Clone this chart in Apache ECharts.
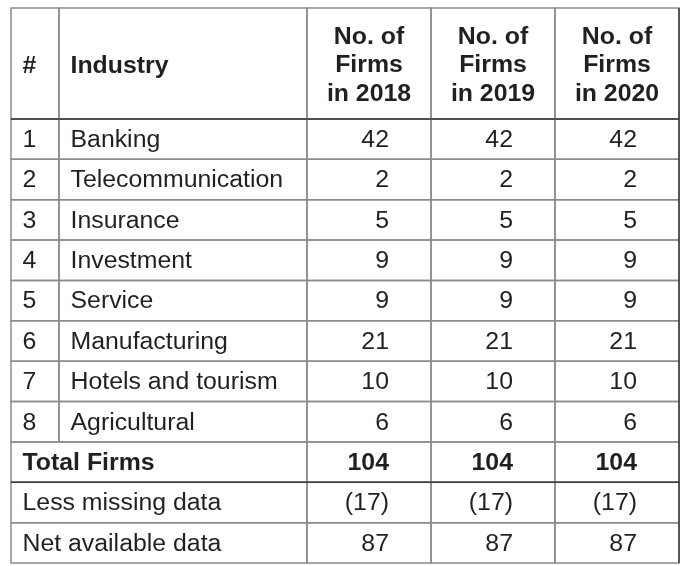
<!DOCTYPE html>
<html>
<head>
<meta charset="utf-8">
<script src="https://cdn.jsdelivr.net/npm/echarts@6/dist/echarts.min.js"></script>
<style>
  html, body { margin: 0; padding: 0; background: #ffffff; }
  #chart { width: 699px; height: 566px; }
</style>
</head>
<body>
<div id="chart"></div>
<script>
// ---- Data ----
const headers = ['#', 'Industry', 'No. of\nFirms\nin 2018', 'No. of\nFirms\nin 2019', 'No. of\nFirms\nin 2020'];
const rowIds = ['1', '2', '3', '4', '5', '6', '7', '8'];
const industries = ['Banking', 'Telecommunication', 'Insurance', 'Investment', 'Service', 'Manufacturing', 'Hotels and tourism', 'Agricultural'];
const firms2018 = [42, 2, 5, 9, 9, 21, 10, 6];
const firms2019 = [42, 2, 5, 9, 9, 21, 10, 6];
const firms2020 = [42, 2, 5, 9, 9, 21, 10, 6];
const summaryLabels = ['Total Firms', 'Less missing data', 'Net available data'];
const totalFirms = [104, 104, 104];
const missingData = [17, 17, 17];
const netAvailable = [87, 87, 87];

// ---- Layout (axis units) ----
const colEdges = [0, 48, 296, 420, 544, 668];
const headerH = 111;
const tableH = 555;
const nBodyRows = rowIds.length + summaryLabels.length;
const rowH = (tableH - headerH) / nBodyRows;
const rowEdges = [0];
for (let i = 0; i <= nBodyRows; i++) rowEdges.push(headerH + i * rowH);

// ---- Build cells ----
const cells = [];
headers.forEach((h, i) => {
  cells.push({ c0: i, c1: i + 1, r: 0, text: h, align: i < 2 ? 'left' : 'center', bold: true });
});
const yearCols = [firms2018, firms2019, firms2020];
rowIds.forEach((id, i) => {
  cells.push({ c0: 0, c1: 1, r: i + 1, text: id, align: 'left', bold: false });
  cells.push({ c0: 1, c1: 2, r: i + 1, text: industries[i], align: 'left', bold: false });
  yearCols.forEach((arr, k) => {
    cells.push({ c0: 2 + k, c1: 3 + k, r: i + 1, text: String(arr[i]), align: 'right', bold: false });
  });
});
const summaryVals = [
  totalFirms.map(v => String(v)),
  missingData.map(v => '(' + v + ')'),
  netAvailable.map(v => String(v))
];
summaryLabels.forEach((lab, j) => {
  const r = rowIds.length + 1 + j;
  const bold = j === 0;
  cells.push({ c0: 0, c1: 2, r: r, text: lab, align: 'left', bold: bold });
  summaryVals[j].forEach((t, k) => {
    cells.push({ c0: 2 + k, c1: 3 + k, r: r, text: t, align: 'right', bold: bold });
  });
});

// dark rules: horizontal by row edge index, vertical by col edge index
const darkH = [1, rowIds.length + 2];
const darkV = [5];
const rules = [];
darkH.forEach(e => rules.push({ kind: 'h', e: e }));
darkV.forEach(e => rules.push({ kind: 'v', e: e }));

const FONT_FAMILY = '"Liberation Sans", Arial, Helvetica, sans-serif';
const SX = 1.08;

const chart = echarts.init(document.getElementById('chart'), null, { renderer: 'canvas' });
chart.setOption({
  backgroundColor: '#ffffff',
  animation: false,
  grid: { left: 11, right: 20, top: 8, bottom: 3 },
  xAxis: { type: 'value', min: 0, max: colEdges[colEdges.length - 1], show: false },
  yAxis: { type: 'value', min: 0, max: tableH, inverse: true, show: false },
  series: [
    {
      type: 'custom',
      clip: false,
      silent: true,
      data: cells.map(c => [colEdges[c.c0], rowEdges[c.r]]),
      renderItem: function (params, api) {
        const c = cells[params.dataIndex];
        const p0 = api.coord([colEdges[c.c0], rowEdges[c.r]]);
        const p1 = api.coord([colEdges[c.c1], rowEdges[c.r + 1]]);
        let tx;
        if (c.align === 'left') tx = p0[0] + 11.5;
        else if (c.align === 'right') tx = p1[0] - 42;
        else tx = (p0[0] + p1[0]) / 2;
        const ty = (p0[1] + p1[1]) / 2 + (c.r === 0 ? (c.align === 'left' ? 3.5 : 2.5) : 1.5);
        return {
          type: 'group',
          children: [
            {
              type: 'rect',
              shape: { x: p0[0], y: p0[1], width: p1[0] - p0[0], height: p1[1] - p0[1] },
              style: { fill: 'none', stroke: '#8c8c8c', lineWidth: 1.5 }
            },
            {
              type: 'text',
              x: tx,
              y: ty,
              scaleX: SX,
              style: {
                text: c.text,
                x: 0,
                y: 0,
                fill: '#231f20',
                fontFamily: FONT_FAMILY,
                fontSize: 23,
                fontWeight: c.bold ? 'bold' : 'normal',
                lineHeight: 28.5,
                align: c.align,
                verticalAlign: 'middle'
              }
            }
          ]
        };
      }
    },
    {
      type: 'custom',
      clip: false,
      silent: true,
      data: rules.map(r => [r.e, 0]),
      renderItem: function (params, api) {
        const r = rules[params.dataIndex];
        let a, b;
        if (r.kind === 'h') {
          a = api.coord([colEdges[0], rowEdges[r.e]]);
          b = api.coord([colEdges[colEdges.length - 1], rowEdges[r.e]]);
        } else {
          a = api.coord([colEdges[r.e], rowEdges[0]]);
          b = api.coord([colEdges[r.e], rowEdges[rowEdges.length - 1]]);
        }
        return {
          type: 'line',
          shape: { x1: a[0], y1: a[1], x2: b[0], y2: b[1] },
          style: { stroke: '#3a3a3a', lineWidth: 1.5 }
        };
      }
    }
  ]
});
</script>
</body>
</html>
